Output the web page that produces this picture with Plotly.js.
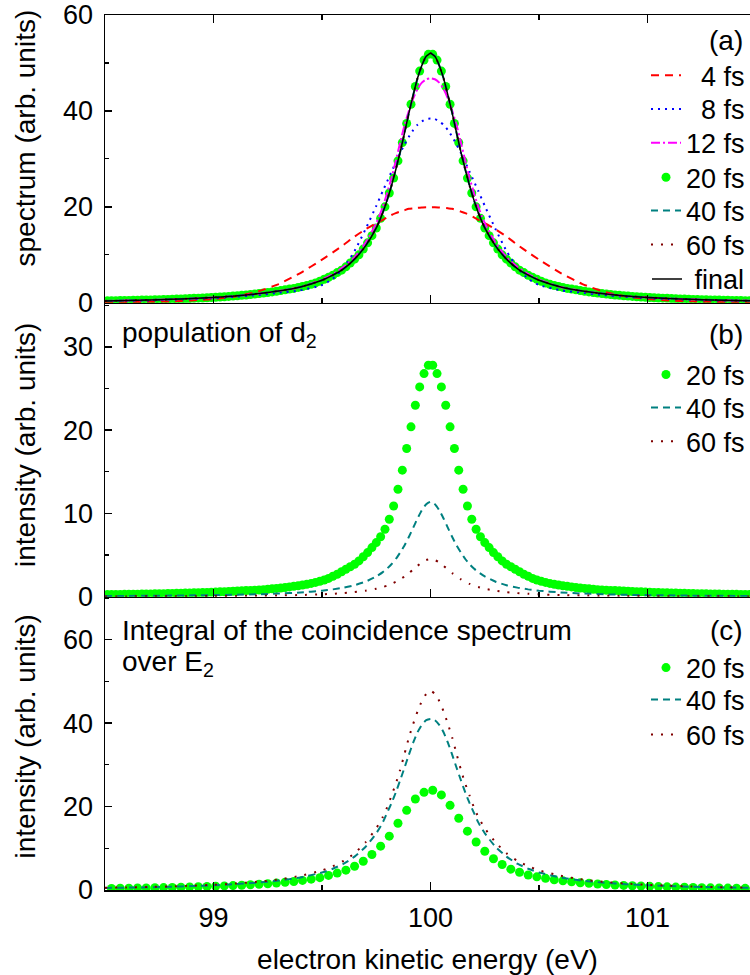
<!DOCTYPE html>
<html>
<head>
<meta charset="utf-8">
<script src="https://cdn.plot.ly/plotly-3.0.1.min.js"></script>
<style>html,body{margin:0;padding:0;background:#fff;}#chart{width:750px;height:975px;}</style>
</head>
<body>
<div id="chart"></div>
<script>
// ---------- x grids ----------
const xLine = [98.5,98.6,98.7,98.8,98.9,99.0,99.1,99.2,99.3,99.4,99.5,99.55,99.6,99.65,99.7,99.75,99.78,99.8,99.82,99.84,99.86,99.88,99.9,99.92,99.94,99.96,99.98,
  100.0,
  100.02,100.04,100.06,100.08,100.1,100.12,100.14,100.16,100.18,100.2,100.22,100.25,100.3,100.35,100.4,100.45,100.5,100.6,100.7,100.8,100.9,101.0,101.1,101.2,101.3,101.4,101.5];

const xDots = [98.51,98.53,98.55,98.57,98.59,98.61,98.63,98.65,98.67,98.69,
  98.71,98.73,98.75,98.77,98.79,98.81,98.83,98.85,98.87,98.89,
  98.91,98.93,98.95,98.97,98.99,99.01,99.03,99.05,99.07,99.09,
  99.11,99.13,99.15,99.17,99.19,99.21,99.23,99.25,99.27,99.29,
  99.31,99.33,99.35,99.37,99.39,99.41,99.43,99.45,99.47,99.49,
  99.51,99.53,99.55,99.57,99.59,99.61,99.63,99.65,99.67,99.69,
  99.71,99.73,99.75,99.77,99.79,99.81,99.83,99.85,99.87,99.89,
  99.91,99.93,99.95,99.97,99.99,
  100.01,100.03,100.05,100.07,100.09,100.11,100.13,100.15,100.17,100.19,
  100.21,100.23,100.25,100.27,100.29,100.31,100.33,100.35,100.37,100.39,
  100.41,100.43,100.45,100.47,100.49,100.51,100.53,100.55,100.57,100.59,
  100.61,100.63,100.65,100.67,100.69,100.71,100.73,100.75,100.77,100.79,
  100.81,100.83,100.85,100.87,100.89,100.91,100.93,100.95,100.97,100.99,
  101.01,101.03,101.05,101.07,101.09,101.11,101.13,101.15,101.17,101.19,
  101.21,101.23,101.25,101.27,101.29,101.31,101.33,101.35,101.37,101.39,
  101.41,101.43,101.45,101.47,101.49];

const xDotsC = [98.53,98.57,98.61,98.65,98.69,98.73,98.77,98.81,98.85,98.89,
  98.93,98.97,99.01,99.05,99.09,99.13,99.17,99.21,99.25,99.29,
  99.33,99.37,99.41,99.45,99.49,99.53,99.57,99.61,99.65,99.69,
  99.73,99.77,99.81,99.85,99.89,99.93,99.97,
  100.01,100.05,100.09,100.13,100.17,100.21,100.25,100.29,100.33,100.37,
  100.41,100.45,100.49,100.53,100.57,100.61,100.65,100.69,100.73,100.77,
  100.81,100.85,100.89,100.93,100.97,101.01,101.05,101.09,101.13,101.17,
  101.21,101.25,101.29,101.33,101.37,101.41,101.45,101.49];

// ---------- panel (a): spectrum ----------
const specA4 = [0.1,0.15,0.2,0.3,0.5,0.8,1.3,2.3,3.9,6.2,9.0,10.5,12.1,13.8,15.3,16.6,17.3,17.8,18.3,18.7,19.0,19.3,19.6,19.7,19.8,19.85,19.9,
  19.9,
  19.9,19.85,19.8,19.7,19.6,19.3,19.0,18.7,18.3,17.8,17.3,16.6,15.3,13.8,12.1,10.5,9.0,6.2,3.9,2.3,1.3,0.8,0.5,0.3,0.2,0.15,0.1];
const specA8 = [0.35,0.42,0.5,0.62,0.78,0.97,1.25,1.6,2.1,2.6,3.7,5.0,7.3,10.8,15.3,20.2,23.3,25.3,27.3,29.3,31.2,33.0,34.6,36.0,37.1,37.8,38.3,
  38.4,
  38.3,37.8,37.1,36.0,34.6,33.0,31.2,29.3,27.3,25.3,23.3,20.2,15.3,10.8,7.3,5.0,3.7,2.6,2.1,1.6,1.25,0.97,0.78,0.62,0.5,0.42,0.35];
const specA12 = [0.39,0.49,0.59,0.72,0.9,1.12,1.43,1.87,2.45,3.3,4.85,6.0,7.5,9.5,12.5,16.6,20.0,22.9,26.0,29.6,33.4,37.0,40.0,42.6,44.6,45.9,46.6,
  46.8,
  46.6,45.9,44.6,42.6,40.0,37.0,33.4,29.6,26.0,22.9,20.0,16.6,12.5,9.5,7.5,6.0,4.85,3.3,2.45,1.87,1.43,1.12,0.9,0.72,0.59,0.49,0.39];
const specA40 = [0.39,0.49,0.59,0.72,0.9,1.12,1.43,1.87,2.45,3.3,4.7,5.75,7.1,9.1,11.8,15.6,18.8,21.4,24.4,27.8,31.4,35.4,39.5,43.3,46.8,49.5,51.4,
  52.0,
  51.4,49.5,46.8,43.3,39.5,35.4,31.4,27.8,24.4,21.4,18.8,15.6,11.8,9.1,7.1,5.75,4.7,3.3,2.45,1.87,1.43,1.12,0.9,0.72,0.59,0.49,0.39];
const specA60 = [0.39,0.49,0.59,0.72,0.9,1.12,1.43,1.87,2.45,3.3,4.7,5.75,7.1,9.1,11.8,15.6,18.8,21.4,24.4,27.8,31.4,35.4,39.5,43.3,46.8,49.5,51.4,
  52.0,
  51.4,49.5,46.8,43.3,39.5,35.4,31.4,27.8,24.4,21.4,18.8,15.6,11.8,9.1,7.1,5.75,4.7,3.3,2.45,1.87,1.43,1.12,0.9,0.72,0.59,0.49,0.39];
const specAfinal = [0.39,0.49,0.59,0.72,0.9,1.12,1.43,1.87,2.45,3.3,4.7,5.75,7.1,9.1,11.8,15.6,18.8,21.4,24.4,27.8,31.4,35.4,39.5,43.3,46.8,49.5,51.4,
  52.0,
  51.4,49.5,46.8,43.3,39.5,35.4,31.4,27.8,24.4,21.4,18.8,15.6,11.8,9.1,7.1,5.75,4.7,3.3,2.45,1.87,1.43,1.12,0.9,0.72,0.59,0.49,0.39];
const specA20 = [0.4,0.42,0.44,0.46,0.48,0.5,0.52,0.54,0.56,0.58,
  0.6,0.63,0.65,0.68,0.71,0.74,0.77,0.8,0.84,0.88,
  0.92,0.96,1.0,1.05,1.1,1.15,1.21,1.27,1.33,1.4,
  1.47,1.55,1.63,1.72,1.82,1.92,2.03,2.15,2.27,2.4,
  2.55,2.7,2.85,3.0,3.2,3.4,3.6,3.85,4.15,4.5,
  4.9,5.3,5.75,6.3,6.8,7.5,8.3,9.1,10.0,11.2,
  12.5,14.0,15.6,17.6,20.0,22.9,26.0,29.6,33.4,37.4,
  41.4,45.1,48.3,50.6,51.8,
  51.8,50.6,48.3,45.1,41.4,
  37.4,33.4,29.6,26.0,22.9,20.0,17.6,15.6,14.0,12.5,
  11.2,10.0,9.1,8.3,7.5,6.8,6.3,5.75,5.3,4.9,
  4.5,4.15,3.85,3.6,3.4,3.2,3.0,2.85,2.7,2.55,
  2.4,2.27,2.15,2.03,1.92,1.82,1.72,1.63,1.55,1.47,
  1.4,1.33,1.27,1.21,1.15,1.1,1.05,1.0,0.96,0.92,
  0.88,0.84,0.8,0.77,0.74,0.71,0.68,0.65,0.63,0.6,
  0.58,0.56,0.54,0.52,0.5,0.48,0.46,0.44,0.42,0.4];

// ---------- panel (b): population of d2 ----------
const popB20 = [0.25,0.26,0.27,0.27,0.28,0.28,0.29,0.3,0.31,0.32,
  0.33,0.34,0.35,0.36,0.37,0.38,0.4,0.41,0.43,0.44,
  0.46,0.47,0.49,0.5,0.53,0.55,0.58,0.6,0.63,0.65,
  0.68,0.7,0.73,0.75,0.78,0.8,0.85,0.9,0.95,1.0,
  1.05,1.1,1.18,1.25,1.32,1.4,1.5,1.6,1.72,1.85,
  2.0,2.2,2.45,2.7,3.0,3.3,3.6,3.9,4.3,4.8,
  5.3,5.9,6.5,7.2,8.1,9.3,10.9,12.9,15.2,17.8,
  20.4,23.0,25.2,26.8,27.8,
  27.8,26.8,25.2,23.0,20.4,
  17.8,15.2,12.9,10.9,9.3,8.1,7.2,6.5,5.9,5.3,
  4.8,4.3,3.9,3.6,3.3,3.0,2.7,2.45,2.2,2.0,
  1.85,1.72,1.6,1.5,1.4,1.32,1.25,1.18,1.1,1.05,
  1.0,0.95,0.9,0.85,0.8,0.78,0.75,0.73,0.7,0.68,
  0.65,0.63,0.6,0.58,0.55,0.53,0.5,0.49,0.47,0.46,
  0.44,0.43,0.41,0.4,0.38,0.37,0.36,0.35,0.34,0.33,
  0.32,0.31,0.3,0.29,0.28,0.28,0.27,0.27,0.26,0.25];
const popB40 = [0.085,0.097,0.11,0.13,0.16,0.19,0.23,0.29,0.38,0.51,0.72,0.88,1.09,1.38,1.8,2.43,2.95,3.38,3.9,4.53,5.3,6.16,7.17,8.27,9.4,10.4,11.1,
  11.4,
  11.1,10.4,9.4,8.27,7.17,6.16,5.3,4.53,3.9,3.38,2.95,2.43,1.8,1.38,1.09,0.88,0.72,0.51,0.38,0.29,0.23,0.19,0.16,0.13,0.11,0.097,0.085];
const popB60 = [0.034,0.038,0.045,0.052,0.062,0.075,0.092,0.116,0.15,0.2,0.28,0.35,0.43,0.55,0.71,0.96,1.16,1.33,1.54,1.79,2.08,2.43,2.83,3.26,3.71,4.11,4.4,
  4.5,
  4.4,4.11,3.71,3.26,2.83,2.43,2.08,1.79,1.54,1.33,1.16,0.96,0.71,0.55,0.43,0.35,0.28,0.2,0.15,0.116,0.092,0.075,0.062,0.052,0.045,0.038,0.034];

// ---------- panel (c): integral of the coincidence spectrum ----------
const intC20 = [0.38,0.41,0.44,0.47,0.5,0.54,0.58,0.62,0.67,0.72,
  0.78,0.84,0.91,0.98,1.06,1.15,1.25,1.37,1.5,1.65,
  1.85,2.05,2.3,2.6,2.95,3.5,4.05,4.75,5.7,6.9,
  8.5,10.5,12.9,16.0,19.1,21.8,23.4,
  23.9,22.8,20.3,17.2,14.1,11.5,9.3,7.5,6.1,5.0,
  4.25,3.6,3.15,2.8,2.45,2.2,1.95,1.75,1.6,1.45,
  1.32,1.2,1.1,1.02,0.95,0.88,0.82,0.76,0.7,0.65,
  0.6,0.56,0.52,0.49,0.46,0.43,0.4,0.38];
const intC40 = [0.5,0.57,0.66,0.78,0.95,1.15,1.4,1.75,2.25,3.0,4.2,5.1,6.3,8.0,10.3,13.6,16.2,18.5,20.8,23.4,26.3,29.3,32.4,35.3,37.8,39.6,40.7,
  41.0,
  40.7,39.6,37.8,35.3,32.4,29.3,26.3,23.4,20.8,18.5,16.2,13.6,10.3,8.0,6.3,5.1,4.2,3.0,2.25,1.75,1.4,1.15,0.95,0.78,0.66,0.57,0.5];
const intC60 = [0.55,0.62,0.72,0.85,1.03,1.25,1.55,1.95,2.5,3.4,4.7,5.7,7.0,8.8,11.4,14.8,17.5,19.8,22.6,25.5,28.8,32.6,36.5,39.8,42.8,45.3,47.0,
  47.8,
  47.0,45.3,42.8,39.8,36.5,32.6,28.8,25.5,22.6,19.8,17.5,14.8,11.4,8.8,7.0,5.7,4.7,3.4,2.5,1.95,1.55,1.25,1.03,0.85,0.72,0.62,0.55];

// ---------- labels ----------
const nm = {
  f4: '\u00a0\u00a04 fs', f8: '\u00a0\u00a08 fs', f12: '12 fs', f20: '20 fs',
  f40: '40 fs', f60: '60 fs', fin: '\u00a0final'
};
const panelTags = ['(a)', '(b)', '(c)'];
const yTitles = ['spectrum (arb. units)', 'intensity (arb. units)', 'intensity (arb. units)'];
const xTitle = 'electron kinetic energy (eV)';

const GREEN = '#00ff00', RED = '#ff0000', BLUE = '#0000ff', MAG = '#ff00ff', TEAL = '#008080', DRED = '#800000';
const dots = (x, y, xa, ya, lg) => ({x, y, xaxis: xa, yaxis: ya, legend: lg, type: 'scatter', mode: 'markers',
  name: nm.f20, marker: {color: GREEN, size: 9}, cliponaxis: true});
const ln = (x, y, xa, ya, lg, name, color, dash, w) => ({x, y, xaxis: xa, yaxis: ya, legend: lg, type: 'scatter',
  mode: 'lines', name, line: {color, dash, width: w || 2, shape: 'spline', smoothing: 0.5}});

const traces = [
  dots(xDots, specA20, 'x', 'y', 'legend4'),
  ln(xLine, specA4, 'x', 'y', 'legend', nm.f4, RED, '8px,6px'),
  ln(xLine, specA8, 'x', 'y', 'legend2', nm.f8, BLUE, '2px,5px'),
  ln(xLine, specA12, 'x', 'y', 'legend3', nm.f12, MAG, '9px,3px,2px,3px'),
  ln(xLine, specA40, 'x', 'y', 'legend5', nm.f40, TEAL, '7px,5px'),
  ln(xLine, specA60, 'x', 'y', 'legend6', nm.f60, DRED, '2px,8px'),
  ln(xLine, specAfinal, 'x', 'y', 'legend7', nm.fin, '#000000', 'solid', 1.5),

  dots(xDots, popB20, 'x2', 'y2', 'legend8'),
  ln(xLine, popB40, 'x2', 'y2', 'legend9', nm.f40, TEAL, '7px,5px'),
  ln(xLine, popB60, 'x2', 'y2', 'legend10', nm.f60, DRED, '2px,8px'),

  dots(xDotsC, intC20, 'x3', 'y3', 'legend11'),
  ln(xLine, intC40, 'x3', 'y3', 'legend12', nm.f40, TEAL, '7px,5px'),
  ln(xLine, intC60, 'x3', 'y3', 'legend13', nm.f60, DRED, '2px,8px')
];

const FONT = 'Arial, "Liberation Sans", sans-serif';
const xBase = (anchor, labels, mirror, title) => ({
  anchor, domain: [0, 1], range: [98.5, 101.472], tick0: 99, dtick: 1,
  ticks: 'inside', ticklen: 8, tickwidth: 1.5, tickcolor: '#000',
  showticklabels: labels, tickfont: {size: 27}, ticklabelstandoff: 3,
  minor: {tick0: 98.5, dtick: 0.5, ticks: 'inside', ticklen: 5, tickwidth: 1.2, tickcolor: '#000'},
  showline: true, linewidth: 1.5, linecolor: '#000', mirror: mirror,
  showgrid: false, zeroline: false,
  title: title ? {text: title, font: {size: 28}, standoff: 20} : undefined
});
const yBase = (anchor, domain, range, dtick, minor) => ({
  anchor, domain, range, tick0: 0, dtick,
  ticks: 'inside', ticklen: 7, tickwidth: 1.5, tickcolor: '#000',
  tickfont: {size: 27}, ticklabelstandoff: 5, ticklabeloverflow: 'allow',
  minor: {tick0: 0, dtick: minor, ticks: 'inside', ticklen: 4, tickwidth: 1.2, tickcolor: '#000'},
  showline: true, linewidth: 1.5, linecolor: '#000',
  showgrid: false, zeroline: false
});

// one single-entry legend per row so rows sit exactly where the reference has them
const leg = (y) => ({x: 1, xanchor: 'right', y, yanchor: 'middle', bgcolor: 'rgba(0,0,0,0)',
  borderwidth: 0, font: {size: 27}, itemclick: false});
const legendRows = [0.9306, 0.8922, 0.8534, 0.8141, 0.7760, 0.7371, 0.6979, 0.5886, 0.5509, 0.5123, 0.2537, 0.2171, 0.1771];

const ann = (text, x, y, xanchor, extra) => Object.assign({text, xref: 'paper', yref: 'paper', x, y, xanchor,
  yanchor: 'middle', showarrow: false, font: {size: 28}}, extra || {});

const layout = {
  width: 750, height: 975,
  margin: {l: 105, r: 0, t: 15, b: 85},
  paper_bgcolor: '#fff', plot_bgcolor: '#fff',
  font: {family: FONT, size: 28, color: '#000'},
  showlegend: true,
  xaxis: xBase('y', false, 'ticks'),
  xaxis2: Object.assign(xBase('y2', false, false), {matches: 'x'}),
  xaxis3: Object.assign(xBase('y3', true, false, xTitle), {matches: 'x'}),
  yaxis: yBase('x', [0.6711, 1], [0, 60], 20, 10),
  yaxis2: yBase('x2', [0.3352, 0.6711], [0, 35.3], 10, 5),
  yaxis3: yBase('x3', [0, 0.3352], [0, 70.3], 20, 10),
  annotations: [
    ann(panelTags[0], 0.9922, 0.9714, 'right'),
    ann(panelTags[1], 0.9922, 0.6343, 'right'),
    ann(panelTags[2], 0.9922, 0.2971, 'right'),
    ann('population of d<sub>2</sub>', 0.0233, 0.6343, 'left'),
    ann('Integral of the coincidence spectrum', 0.0233, 0.2971, 'left'),
    ann('over E<sub>2</sub>', 0.0233, 0.2594, 'left'),
    ann(yTitles[0], -0.1225, 0.8600, 'center', {textangle: -90}),
    ann(yTitles[1], -0.1225, 0.5086, 'center', {textangle: -90}),
    ann(yTitles[2], -0.1225, 0.1754, 'center', {textangle: -90})
  ]
};
legendRows.forEach((y, i) => { layout[i === 0 ? 'legend' : 'legend' + (i + 1)] = leg(y); });

Plotly.newPlot('chart', traces, layout, {displayModeBar: false, staticPlot: true});
</script>
</body>
</html>
